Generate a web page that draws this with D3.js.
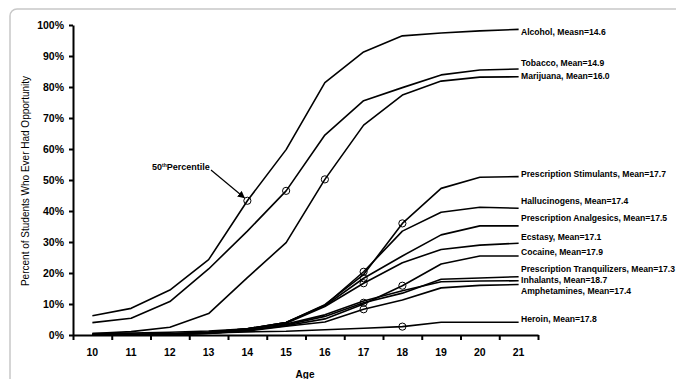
<!doctype html>
<html lang="en">
<head>
  <meta charset="utf-8">
  <title>Age of first opportunity</title>
  <style>
  body { margin: 0; background: #fff; }
  svg { display: block; font-family: "Liberation Sans", Arial, sans-serif; }
  .frame { fill: none; stroke: #c8c8c8; stroke-width: 1.5; }
  .axis path, .axis line { stroke: #000; stroke-width: 2; }
  .axis text { font-size: 10.5px; font-weight: bold; fill: #000; }
  .series { fill: none; stroke: #000; stroke-width: 1.6; stroke-linejoin: round; }
  .median { fill: none; stroke: #000; stroke-width: 1; }
  .label { font-size: 8.6px; font-weight: bold; }
  </style>
</head>
<body>
  <div id="chart"></div>
  <script src="https://d3js.org/d3.v7.min.js" charset="utf-8"></script>

  <script>
var ages = [10, 11, 12, 13, 14, 15, 16, 17, 18, 19, 20, 21];
var yTicks = [0, 10, 20, 30, 40, 50, 60, 70, 80, 90, 100];

var names = ["Alcohol, Measn=14.6", "Tobacco, Mean=14.9", "Marijuana, Mean=16.0",
  "Prescription Stimulants, Mean=17.7", "Hallucinogens, Mean=17.4",
  "Prescription Analgesics, Mean=17.5", "Ecstasy, Mean=17.1", "Cocaine, Mean=17.9",
  "Prescription Tranquilizers, Mean=17.3", "Inhalants, Mean=18.7",
  "Amphetamines, Mean=17.4", "Heroin, Mean=17.8"];

// percent who ever had the opportunity, by age
var alcohol       = [6.2, 8.6, 14.5, 24.3, 43.3, 59.8, 81.4, 91.3, 96.5, 97.4, 98.1, 98.6];
var tobacco       = [4.0, 5.4, 10.8, 21.3, 33.5, 46.5, 64.5, 75.6, 79.8, 83.9, 85.5, 85.8];
var marijuana     = [0.5, 1.1, 2.5, 6.9, 18.5, 29.8, 50.2, 67.7, 77.4, 81.9, 83.2, 83.3];
var stimulants    = [0, 0, 0.3, 0.9, 2.0, 4.0, 9.8, 19.5, 36.0, 47.3, 50.9, 51.1];
var hallucinogens = [0, 0, 0.3, 0.9, 2.0, 4.0, 9.6, 20.4, 33.5, 39.6, 41.2, 40.9];
var analgesics    = [0, 0, 0.3, 0.9, 2.0, 4.0, 9.4, 18.3, 25.5, 32.3, 35.2, 35.2];
var ecstasy       = [0, 0, 0.2, 0.7, 1.8, 3.8, 9.2, 16.7, 23.3, 27.6, 29.0, 29.6];
var cocaine       = [0, 0, 0.2, 0.6, 1.5, 3.0, 5.2, 10.0, 15.9, 22.9, 25.5, 25.5];
var tranquilizers = [0, 0, 0.2, 0.6, 1.5, 3.2, 6.0, 10.4, 13.5, 18.0, 18.4, 18.8];
var inhalants     = [0.5, 0.6, 0.9, 1.3, 2.0, 3.5, 6.5, 11.0, 14.3, 17.2, 17.4, 17.5];
var amphetamines  = [0, 0, 0.2, 0.5, 1.3, 2.8, 4.2, 8.3, 11.3, 15.2, 16.0, 16.3];
var heroin        = [0.2, 0.3, 0.5, 0.7, 1.0, 1.2, 1.7, 2.2, 2.7, 4.1, 4.1, 4.1];

// age at the 50th percentile (circle marker), null = none
var medianAge = [14, 15, 16, 18, 17, 17, 17, 18, 17, null, 17, 18];

(function() {
  var width = 676, height = 379;
  var series = [alcohol, tobacco, marijuana, stimulants, hallucinogens, analgesics,
    ecstasy, cocaine, tranquilizers, inhalants, amphetamines, heroin];
  // nudges so the end labels don't collide (px)
  var labelDy = [3, -6, -1, -3, -7, -8, -6, -4, -8, -1, 7, -3];

  var svg = d3.select("#chart").append("svg")
      .attr("width", width)
      .attr("height", height);

  svg.append("rect").attr("class", "frame")
      .attr("x", 10).attr("y", 9)
      .attr("width", 700).attr("height", 400)
      .attr("rx", 7);

  var x = d3.scaleBand().domain(ages).range([73, 538]);
  var y = d3.scaleLinear().domain([0, 100]).range([335, 25]);
  var xc = function(a) { return x(a) + x.bandwidth() / 2; };

  // y axis
  svg.append("g").attr("class", "axis")
      .attr("transform", "translate(73,0)")
      .call(d3.axisLeft(y).tickValues(yTicks).tickSize(4).tickSizeOuter(0)
        .tickFormat(function(d) { return d + "%"; }))
      .call(function(g) { g.selectAll("text").attr("x", -9); });

  // x axis: ticks between the ages, labels centred in each band
  var edges = d3.scaleLinear().domain([0, ages.length]).range(x.range());
  svg.append("g").attr("class", "axis")
      .attr("transform", "translate(0,335)")
      .call(d3.axisBottom(edges).ticks(ages.length).tickSize(5).tickSizeOuter(0)
        .tickFormat(""));
  svg.append("g").attr("class", "axis")
      .attr("transform", "translate(0,335)")
      .call(d3.axisBottom(x).tickSize(0).tickPadding(14))
      .call(function(g) { g.select(".domain").remove(); });

  svg.append("text")
      .attr("x", 305).attr("y", 378)
      .attr("text-anchor", "middle")
      .style("font-size", "10px").style("font-weight", "bold")
      .text("Age");

  svg.append("text")
      .attr("transform", "translate(29,181) rotate(-90)")
      .attr("text-anchor", "middle")
      .style("font-size", "10px")
      .text("Percent of Students Who Ever Had Opportunity");

  var line = d3.line()
      .x(function(d, i) { return xc(ages[i]); })
      .y(function(d) { return y(d); });

  svg.append("g").selectAll("path")
      .data(series)
      .enter().append("path")
      .attr("class", "series")
      .attr("d", line);

  var marks = series.map(function(s, i) {
    var a = medianAge[i];
    return a == null ? null : { age: a, v: s[ages.indexOf(a)] };
  }).filter(function(d) { return d; });

  svg.append("g").selectAll("circle")
      .data(marks)
      .enter().append("circle")
      .attr("class", "median")
      .attr("cx", function(d) { return xc(d.age); })
      .attr("cy", function(d) { return y(d.v); })
      .attr("r", 3.6);

  svg.append("g").selectAll("text")
      .data(series)
      .enter().append("text")
      .attr("class", "label")
      .attr("x", 521)
      .attr("y", function(d, i) { return y(d[d.length - 1]) + labelDy[i]; })
      .attr("dy", "0.35em")
      .text(function(d, i) { return names[i]; });

  // 50th percentile callout
  var note = svg.append("text")
      .attr("x", 152).attr("y", 170)
      .style("font-size", "9px").style("font-weight", "bold");
  note.append("tspan").text("50");
  note.append("tspan").attr("dy", -3).style("font-size", "5px").text("th");
  note.append("tspan").attr("dy", 3).text("Percentile");

  svg.append("defs").append("marker")
      .attr("id", "head")
      .attr("viewBox", "0 0 10 10")
      .attr("refX", 9).attr("refY", 5)
      .attr("markerWidth", 6).attr("markerHeight", 6)
      .attr("orient", "auto")
    .append("path").attr("d", "M0,0L10,5L0,10z");

  svg.append("line")
      .attr("x1", 211).attr("y1", 170)
      .attr("x2", xc(14) - 3).attr("y2", y(alcohol[4]) - 3)
      .attr("stroke", "#000").attr("stroke-width", 1.2)
      .attr("marker-end", "url(#head)");
})();
  </script>
</body>
</html>
